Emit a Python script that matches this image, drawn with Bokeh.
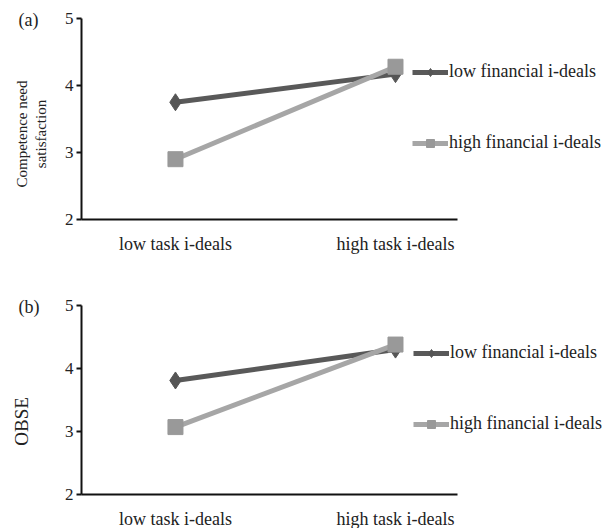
from bokeh.plotting import figure
from bokeh.layouts import column
from bokeh.models import FixedTicker, Legend, LegendItem, Title
from bokeh.embed import file_html
from bokeh.resources import INLINE

categories = ["low task i-deals", "high task i-deals"]
series_names = ["low financial i-deals", "high financial i-deals"]
comp_low_fin = [3.75, 4.17]
comp_high_fin = [2.90, 4.28]
obse_low_fin = [3.81, 4.30]
obse_high_fin = [3.07, 4.38]
y_ticks = [2, 3, 4, 5]

FONT = "Liberation Serif"
DARK = "#595959"
DARK_M = "#555555"
LIGHT = "#a6a6a6"
LIGHT_M = "#999999"
TXT = "#222222"

X0, X_AXIS_END, X1 = -0.427, 1.28, 1.968
NB = "\u00a0"


def make_panel(tag, ylabel, ylabel_size, low_vals, high_vals, top_border, frame_h, bottom_border,
               leg_loc, label_standoff):
    xs = list(range(len(categories)))
    p = figure(output_backend="svg", toolbar_location=None,
               frame_width=527, frame_height=frame_h,
               x_range=(X0, X1), y_range=(2, 5),
               min_border_left=81, min_border_right=0,
               min_border_top=top_border, min_border_bottom=bottom_border)
    p.outline_line_color = None
    p.grid.visible = False
    p.background_fill_color = "white"
    p.border_fill_color = "white"

    p.xaxis.bounds = (X0, X_AXIS_END)
    p.xaxis.ticker = FixedTicker(ticks=xs)
    p.xaxis.major_label_overrides = {i: c for i, c in zip(xs, categories)}
    p.xaxis.major_tick_line_color = None
    p.xaxis.minor_tick_line_color = None
    p.xaxis.major_label_text_font = FONT
    p.xaxis.major_label_text_font_size = "18px"
    p.xaxis.major_label_text_color = TXT
    p.xaxis.major_label_standoff = 8
    p.xaxis.axis_line_width = 2
    p.xaxis.axis_line_color = "#111111"

    p.yaxis.ticker = FixedTicker(ticks=y_ticks)
    p.yaxis.minor_tick_line_color = None
    p.yaxis.major_tick_in = 0
    p.yaxis.major_tick_out = 5
    p.yaxis.major_tick_line_width = 2
    p.yaxis.major_tick_line_color = "#111111"
    p.yaxis.axis_line_width = 2
    p.yaxis.axis_line_color = "#111111"
    p.yaxis.major_label_text_font = FONT
    p.yaxis.major_label_text_font_size = "17px"
    p.yaxis.major_label_text_color = TXT
    p.yaxis.major_label_standoff = 3
    p.yaxis.axis_label = ylabel
    p.yaxis.axis_label_text_font = FONT
    p.yaxis.axis_label_text_font_style = "normal"
    p.yaxis.axis_label_text_font_size = ylabel_size
    p.yaxis.axis_label_text_color = TXT
    p.yaxis.axis_label_standoff = label_standoff

    l1 = p.line(xs, low_vals, line_color=DARK, line_width=5)
    m1 = p.scatter(xs, low_vals, marker="diamond", size=17, fill_color=DARK_M, line_color=DARK_M)
    l2 = p.line(xs, high_vals, line_color=LIGHT, line_width=5)
    m2 = p.scatter(xs, high_vals, marker="square", size=15, fill_color=LIGHT_M, line_color=LIGHT_M)

    legend = Legend(items=[LegendItem(label=series_names[0], renderers=[l1, m1]),
                           LegendItem(label=series_names[1], renderers=[l2, m2])],
                    location=leg_loc, orientation="vertical",
                    padding=0, margin=0, spacing=50,
                    glyph_width=36, glyph_height=20, label_height=20,
                    label_standoff=1,
                    label_text_font=FONT, label_text_font_size="18px",
                    label_text_color=TXT,
                    background_fill_alpha=0, border_line_color=None)
    p.add_layout(legend, "center")

    t = Title(text=tag, align="left", offset=-63, standoff=-22,
              text_font=FONT, text_font_size="18px", text_color=TXT,
              text_font_style="normal")
    p.add_layout(t, "above")
    return p


pa = make_panel("(a)", "Competence need" + NB * 8 + "\nsatisfaction" + NB * 8, "15px",
                comp_low_fin, comp_high_fin, 18, 201, 51, (331, 66), 13)
pb = make_panel("(b)", "OBSE" + NB * 9, "19px",
                obse_low_fin, obse_high_fin, 35, 189, 34, (332, 60), 30)

layout = column(pa, pb, spacing=0)
open("out.html", "w").write(file_html(layout, INLINE))
